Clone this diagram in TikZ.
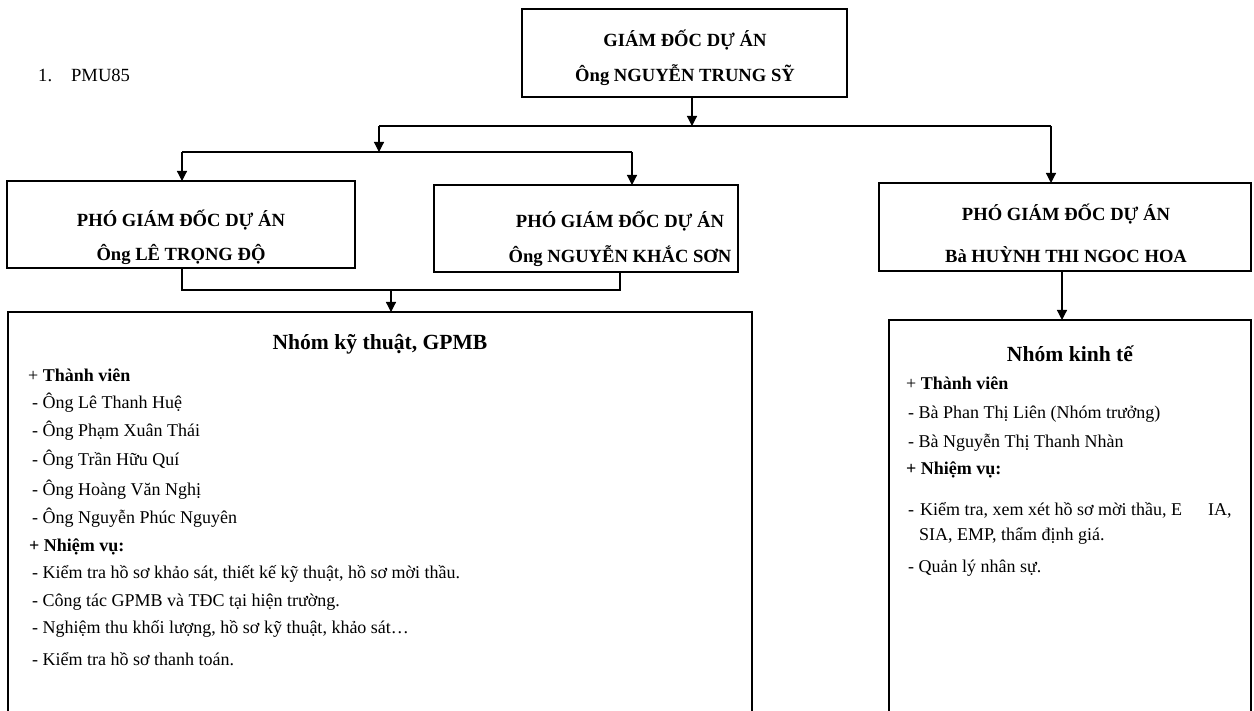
\documentclass[tikz,border=0pt]{standalone}
\usepackage{fontspec}
\setmainfont{Liberation Serif}
\usetikzlibrary{arrows.meta}
\begin{document}
\begin{tikzpicture}[x=1pt,y=-1pt,
  box/.style={draw, line width=1.2pt, inner sep=0pt, outer sep=0pt, anchor=north west},
  arr/.style={line width=1.2pt, -{Triangle[width=10pt,length=10pt]}},
  conn/.style={line width=1.2pt},
  hd/.style={font=\fontsize{18.6}{22}\selectfont\bfseries, anchor=base, inner sep=0pt},
  grp/.style={font=\fontsize{21.6}{26}\selectfont\bfseries, anchor=base, inner sep=0pt},
  txt/.style={font=\fontsize{18}{22}\selectfont, anchor=base west, inner sep=0pt},
  btxt/.style={font=\fontsize{18}{22}\selectfont\bfseries, anchor=base west, inner sep=0pt}]
\useasboundingbox (0,0) rectangle (1254,711);
\clip (0,0) rectangle (1254,711);

% list label
\node[font=\fontsize{18.6}{22}\selectfont, anchor=base west, inner sep=0pt] (lbl) at (38,82) {1.\hspace{19pt}PMU85};

% boxes
\node[box, minimum width=325pt, minimum height=88pt] (gd) at (522,9) {};
\node[box, minimum width=348pt, minimum height=87pt] (pgd1) at (7,181) {};
\node[box, minimum width=304pt, minimum height=87pt] (pgd2) at (434,185) {};
\node[box, minimum width=372pt, minimum height=88pt] (pgd3) at (879,183) {};
\node[box, minimum width=744pt, minimum height=420pt] (g1) at (8,312) {};
\node[box, minimum width=362pt, minimum height=420pt] (g2) at (889,320) {};

% box titles
\node[hd] (gdt1) at (685,47) {GIÁM ĐỐC DỰ ÁN};
\node[hd] (gdt2) at (685,82) {Ông NGUYỄN TRUNG SỸ};
\node[hd] (p1t1) at (181,227) {PHÓ GIÁM ĐỐC DỰ ÁN};
\node[hd] (p1t2) at (181,261) {Ông LÊ TRỌNG ĐỘ};
\node[hd] (p2t1) at (620,228) {PHÓ GIÁM ĐỐC DỰ ÁN};
\node[hd] (p2t2) at (620,263) {Ông NGUYỄN KHẮC SƠN};
\node[hd] (p3t1) at (1066,221) {PHÓ GIÁM ĐỐC DỰ ÁN};
\node[hd] (p3t2) at (1066,263) {Bà HUỲNH THI NGOC HOA};

% group 1 content
\node[grp] (g1t) at (380,350) {Nhóm kỹ thuật, GPMB};
\node[btxt] (g1a) at (28,382) {\mdseries+ \bfseries Thành viên};
\node[txt] (g1b) at (32,409) {- Ông Lê Thanh Huệ};
\node[txt] (g1c) at (32,437) {- Ông Phạm Xuân Thái};
\node[txt] (g1d) at (32,465) {- Ông Trần Hữu Quí};
\node[txt] (g1e) at (32,495) {- Ông Hoàng Văn Nghị};
\node[txt] (g1f) at (32,523) {- Ông Nguyễn Phúc Nguyên};
\node[btxt] (g1g) at (29,551) {+ Nhiệm vụ:};
\node[txt] (g1h) at (32,578) {- Kiểm tra hồ sơ khảo sát, thiết kế kỹ thuật, hồ sơ mời thầu.};
\node[txt] (g1i) at (32,606) {- Công tác GPMB và TĐC tại hiện trường.};
\node[txt] (g1j) at (32,633) {- Nghiệm thu khối lượng, hồ sơ kỹ thuật, khảo sát…};
\node[txt] (g1k) at (32,665) {- Kiểm tra hồ sơ thanh toán.};

% group 2 content
\node[grp] (g2t) at (1070,362) {Nhóm kinh tế};
\node[btxt] (g2a) at (906,390) {\mdseries+ \bfseries Thành viên};
\node[txt] (g2b) at (908,418) {- Bà Phan Thị Liên (Nhóm trưởng)};
\node[txt] (g2c) at (908,447) {- Bà Nguyễn Thị Thanh Nhàn};
\node[btxt] (g2d) at (906,475) {+ Nhiệm vụ:};
\node[txt] (g2e) at (908,515) {-\hspace{6pt}Kiểm tra, xem xét hồ sơ mời thầu, E\hspace{26pt}IA,};
\node[txt] (g2f) at (919,540) {SIA, EMP, thẩm định giá.};
\node[txt] (g2g) at (908,572) {- Quản lý nhân sự.};

% connector coordinates
\coordinate (busT) at (692,126);
\coordinate (busL) at (379,126);
\coordinate (busR) at (1051,126);
\coordinate (bus2C) at (379,152);
\coordinate (bus2L) at (182,152);
\coordinate (bus2R) at (632,152);
\coordinate (jL) at (182,290);
\coordinate (jR) at (620,290);
\coordinate (jC) at (391,290);
\coordinate (rX) at (1062,290);

% connectors
\draw[arr] (gd.south -| busT) -- (busT);
\draw[conn] (busL) -- (busR);
\draw[arr] (busL) -- (bus2C);
\draw[arr] (busR) -- (pgd3.north -| busR);
\draw[conn] (bus2L) -- (bus2R);
\draw[arr] (bus2L) -- (pgd1.north -| bus2L);
\draw[arr] (bus2R) -- (pgd2.north -| bus2R);
\draw[conn] (pgd1.south -| jL) -- (jL) -- (jR) -- (pgd2.south -| jR);
\draw[arr] (jC) -- (g1.north -| jC);
\draw[arr] (pgd3.south -| rX) -- (g2.north -| rX);
\end{tikzpicture}
\end{document}
